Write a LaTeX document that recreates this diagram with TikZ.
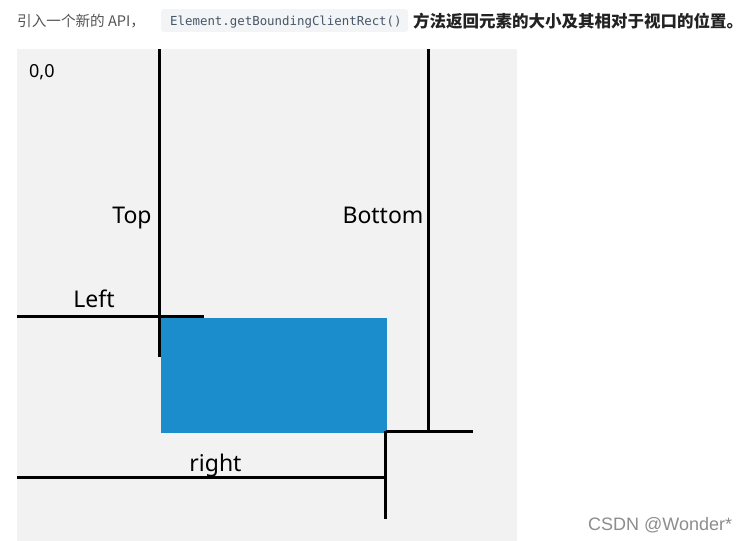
\documentclass[tikz,border=0pt]{standalone}
\usepackage{fontspec}
\setmainfont{Noto Sans}
\newfontfamily\cjk{Noto Sans CJK SC}
\newfontfamily\monofont{DejaVu Sans Mono}
\newfontfamily\wmfont{Liberation Sans}
\definecolor{bggray}{HTML}{F2F2F2}
\definecolor{boxblue}{HTML}{1C8DCC}
\definecolor{codebg}{HTML}{F3F4F5}
\definecolor{codetext}{HTML}{475669}
\definecolor{headgray}{HTML}{555555}
\definecolor{headdark}{HTML}{222222}
\begin{document}
\begin{tikzpicture}[x=1pt,y=-1pt,
  rule/.style={line width=3pt,black},
  lbl/.style={anchor=base,inner sep=0pt,font=\fontsize{23}{27}\selectfont},
]
\useasboundingbox (0,0) rectangle (750,541);
% header
\node[anchor=base west,inner sep=0pt,text=headgray,font=\cjk\fontsize{14.6}{18}\selectfont] (intro) at (17,26) {引入一个新的 API，};
\fill[codebg,rounded corners=3pt] (161,9) rectangle (408,32);
\node[anchor=base west,inner sep=0pt,text=codetext,font=\monofont\fontsize{12.4}{15}\selectfont] (code) at (170,25) {Element.getBoundingClientRect()};
\node[anchor=base west,inner sep=0pt,text=headdark,font=\cjk\bfseries\fontsize{16.5}{20}\selectfont] (desc) at (413,27) {方法返回元素的大小及其相对于视口的位置。};
% background
\fill[bggray] (17,49) rectangle (517,541);
% element
\fill[boxblue] (161,318) rectangle (387,433);
% coordinates
\coordinate (topA) at (159.5,49);
\coordinate (topB) at (159.5,357);
\coordinate (leftA) at (17,316);
\coordinate (leftB) at (204,316);
\coordinate (botA) at (428.3,49);
\coordinate (botB) at (428.3,431.3);
\coordinate (hA) at (386,431.3);
\coordinate (hB) at (472.7,431.3);
\coordinate (vA) at (385.3,431.3);
\coordinate (vB) at (385.3,518.7);
\coordinate (rA) at (17,477.3);
\coordinate (rB) at (385.3,477.3);
\draw[rule] (topA) -- (topB);
\draw[rule] (leftA) -- (leftB);
\draw[rule] (botA) -- (botB);
\draw[rule] (hA) -- (hB);
\draw[rule] (vA) -- (vB);
\draw[rule] (rA) -- (rB);
% labels
\node[anchor=base west,inner sep=0pt,font=\fontsize{18}{22}\selectfont] (origin) at (29,77) {0,0};
\node[lbl] (ltop) at (132,223) {Top};
\node[lbl] (lbottom) at (383,223) {Bottom};
\node[lbl] (lleft) at (94,307) {Left};
\node[lbl] (lright) at (215.5,471) {right};
% watermark
\node[anchor=base west,inner sep=0pt,text=black!45,font=\wmfont\fontsize{18}{22}\selectfont] (wm) at (588,530) {CSDN @Wonder*};
\end{tikzpicture}
\end{document}
